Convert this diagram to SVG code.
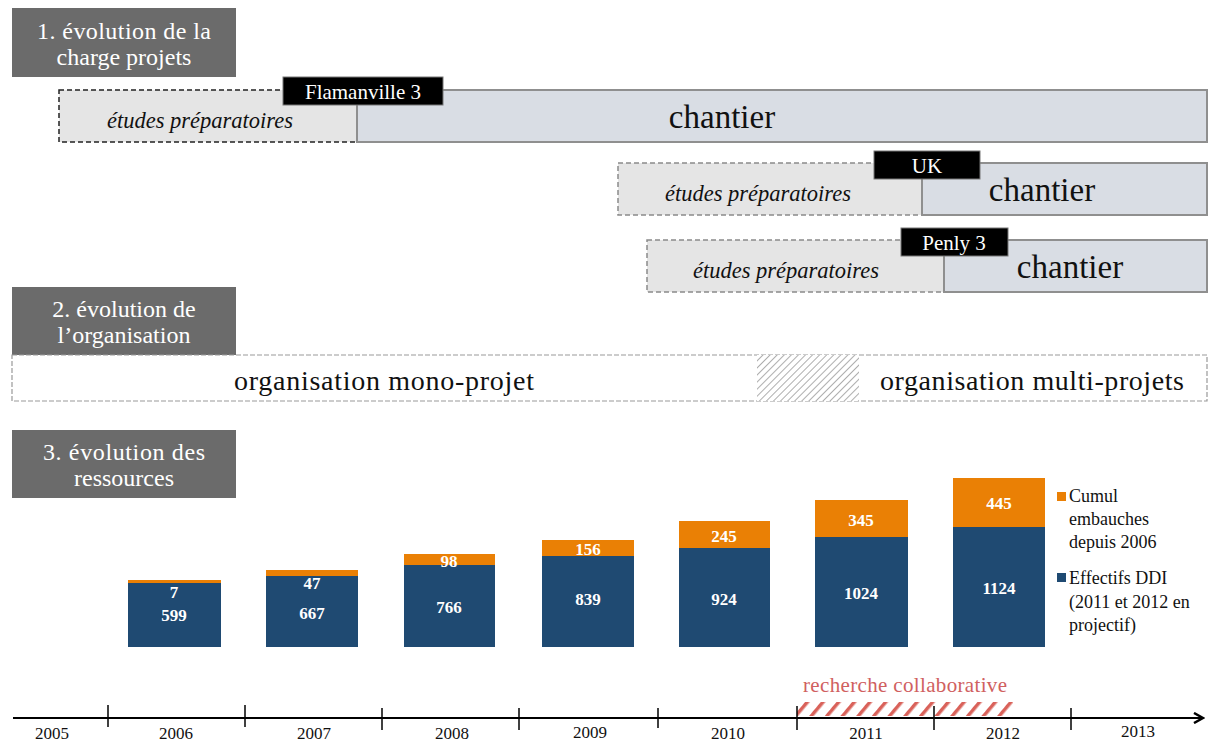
<svg xmlns="http://www.w3.org/2000/svg" width="1208" height="742" viewBox="0 0 1208 742">
<defs>
<style>
text{font-family:"Liberation Serif","Times New Roman",serif;}
.hdr{fill:#6b6b6b;}
.hdrt{fill:#fff;font-size:24px;text-anchor:middle;}
.etu{fill:#e5e5e5;stroke:#8a8a8a;stroke-width:1.5;stroke-dasharray:5,3;}
.etu1{fill:#e5e5e5;stroke:#222;stroke-width:1.5;stroke-dasharray:5,3;}
.cha{fill:#d9dde4;stroke:#8f8f8f;stroke-width:2;}
.lab{fill:#000;stroke:#777;stroke-width:1;}
.labt{fill:#fff;font-size:21px;text-anchor:middle;}
.etut{font-size:22.5px;font-style:italic;text-anchor:middle;fill:#111;}
.chat{font-size:33px;text-anchor:middle;fill:#111;}
.org{fill:#fff;stroke:#999;stroke-width:1.2;stroke-dasharray:5,2;}
.orgt{font-size:28px;text-anchor:middle;fill:#111;}
.blue{fill:#1f4a72;}
.orange{fill:#ea8005;}
.val{fill:#fff;font-size:17px;font-weight:bold;text-anchor:middle;}
.leg{font-size:18px;fill:#111;}
.yr{font-size:17px;text-anchor:middle;fill:#111;}
.tick{stroke:#000;stroke-width:1.5;}
</style>
<pattern id="grayhatch" patternUnits="userSpaceOnUse" width="5" height="5" patternTransform="rotate(45)">
<rect width="5" height="5" fill="#fff"/>
<line x1="0" y1="0" x2="0" y2="5" stroke="#999" stroke-width="1.6"/>
</pattern>
<pattern id="redhatch" patternUnits="userSpaceOnUse" width="12" height="12" patternTransform="rotate(40)">
<rect width="12" height="12" fill="#fff"/>
<line x1="0" y1="0" x2="0" y2="12" stroke="#d9625a" stroke-width="7"/>
</pattern>
<marker id="arr" markerWidth="12" markerHeight="12" refX="10" refY="6" orient="auto" markerUnits="userSpaceOnUse">
<path d="M1,1 L10,6 L1,11" fill="none" stroke="#000" stroke-width="2.5"/>
</marker>
</defs>
<rect width="1208" height="742" fill="#fff"/>

<g id="hdr1"><rect class="hdr" x="12" y="8" width="224" height="69"/><text class="hdrt" x="124" y="39" textLength="174">1. évolution de la</text><text class="hdrt" x="124" y="65">charge projets</text></g>
<g id="hdr2"><rect class="hdr" x="12" y="287" width="224" height="68"/><text class="hdrt" x="124" y="317">2. évolution de</text><text class="hdrt" x="124" y="343">l’organisation</text></g>
<g id="hdr3"><rect class="hdr" x="12" y="430" width="224" height="68"/><text class="hdrt" x="124" y="460" textLength="162">3. évolution des</text><text class="hdrt" x="124" y="486">ressources</text></g>

<g id="flamanville">
<rect class="etu1" x="59" y="90" width="298" height="52"/>
<rect class="cha" x="357" y="90" width="850" height="52"/>
<text class="etut" x="200" y="128">études préparatoires</text>
<text class="chat" x="722" y="128">chantier</text>
<rect class="lab" x="283" y="77" width="160" height="28"/>
<text class="labt" x="363" y="99">Flamanville 3</text>
</g>
<g id="uk">
<rect class="etu" x="618" y="163" width="304" height="52"/>
<rect class="cha" x="922" y="163" width="285" height="52"/>
<text class="etut" x="758" y="201">études préparatoires</text>
<text class="chat" x="1042" y="201">chantier</text>
<rect class="lab" x="874" y="151" width="106" height="28"/>
<text class="labt" x="927" y="173">UK</text>
</g>
<g id="penly">
<rect class="etu" x="647" y="240" width="297" height="52"/>
<rect class="cha" x="944" y="240" width="263" height="52"/>
<text class="etut" x="786" y="278">études préparatoires</text>
<text class="chat" x="1070" y="278">chantier</text>
<rect class="lab" x="901" y="228" width="107" height="28"/>
<text class="labt" x="954" y="250">Penly 3</text>
</g>

<g id="organisation">
<rect class="org" x="12" y="355" width="1195" height="46"/>
<rect x="757" y="355" width="102" height="46" fill="url(#grayhatch)"/>
<text class="orgt" x="384" y="390" textLength="300">organisation mono-projet</text>
<text class="orgt" x="1032" y="390" textLength="304">organisation multi-projets</text>
</g>

<g id="bars">
<g id="b2006"><rect class="orange" x="128" y="580" width="93" height="3"/><rect class="blue" x="128" y="583" width="93" height="64"/><text class="val" x="174" y="598">7</text><text class="val" x="174" y="621">599</text></g>
<g id="b2007"><rect class="orange" x="266" y="570" width="92" height="6"/><rect class="blue" x="266" y="576" width="92" height="71"/><text class="val" x="312" y="589">47</text><text class="val" x="312" y="619">667</text></g>
<g id="b2008"><rect class="orange" x="404" y="554" width="91" height="11"/><rect class="blue" x="404" y="565" width="91" height="82"/><text class="val" x="449" y="567">98</text><text class="val" x="449" y="613">766</text></g>
<g id="b2009"><rect class="orange" x="542" y="540" width="92" height="16"/><rect class="blue" x="542" y="556" width="92" height="91"/><text class="val" x="588" y="555">156</text><text class="val" x="588" y="605">839</text></g>
<g id="b2010"><rect class="orange" x="679" y="521" width="91" height="27"/><rect class="blue" x="679" y="548" width="91" height="99"/><text class="val" x="724" y="542">245</text><text class="val" x="724" y="605">924</text></g>
<g id="b2011"><rect class="orange" x="815" y="500" width="93" height="37"/><rect class="blue" x="815" y="537" width="93" height="110"/><text class="val" x="861" y="526">345</text><text class="val" x="861" y="599">1024</text></g>
<g id="b2012"><rect class="orange" x="953" y="478" width="92" height="49"/><rect class="blue" x="953" y="527" width="92" height="120"/><text class="val" x="999" y="509">445</text><text class="val" x="999" y="594">1124</text></g>
</g>

<g id="legend">
<rect class="orange" x="1057" y="492" width="9" height="9"/>
<text class="leg" x="1069" y="502">Cumul</text>
<text class="leg" x="1069" y="525">embauches</text>
<text class="leg" x="1069" y="548">depuis 2006</text>
<rect class="blue" x="1057" y="573" width="9" height="9"/>
<text class="leg" x="1069" y="584">Effectifs DDI</text>
<text class="leg" x="1069" y="608">(2011 et 2012 en</text>
<text class="leg" x="1069" y="631">projectif)</text>
</g>

<g id="recherche">
<rect x="797" y="702" width="216" height="14" fill="url(#redhatch)"/>
<text x="905" y="692" font-size="21" fill="#d06060" text-anchor="middle" textLength="204">recherche collaborative</text>
</g>

<g id="connectors">
<line x1="13" y1="718" x2="1203" y2="718" stroke="#000" stroke-width="2" marker-end="url(#arr)"/>
<line class="tick" x1="108" y1="705" x2="108" y2="727"/>
<line class="tick" x1="245" y1="705" x2="245" y2="727"/>
<line class="tick" x1="382" y1="708" x2="382" y2="730"/>
<line class="tick" x1="519" y1="708" x2="519" y2="730"/>
<line class="tick" x1="658" y1="708" x2="658" y2="728"/>
<line class="tick" x1="797" y1="706" x2="797" y2="730"/>
<line class="tick" x1="934" y1="706" x2="934" y2="730"/>
<line class="tick" x1="1071" y1="708" x2="1071" y2="730"/>
</g>

<g id="years">
<text class="yr" x="52" y="739">2005</text>
<text class="yr" x="176" y="739">2006</text>
<text class="yr" x="314" y="739">2007</text>
<text class="yr" x="452" y="739">2008</text>
<text class="yr" x="590" y="738">2009</text>
<text class="yr" x="728" y="739">2010</text>
<text class="yr" x="866" y="739">2011</text>
<text class="yr" x="1003" y="739">2012</text>
<text class="yr" x="1138" y="737">2013</text>
</g>
</svg>
